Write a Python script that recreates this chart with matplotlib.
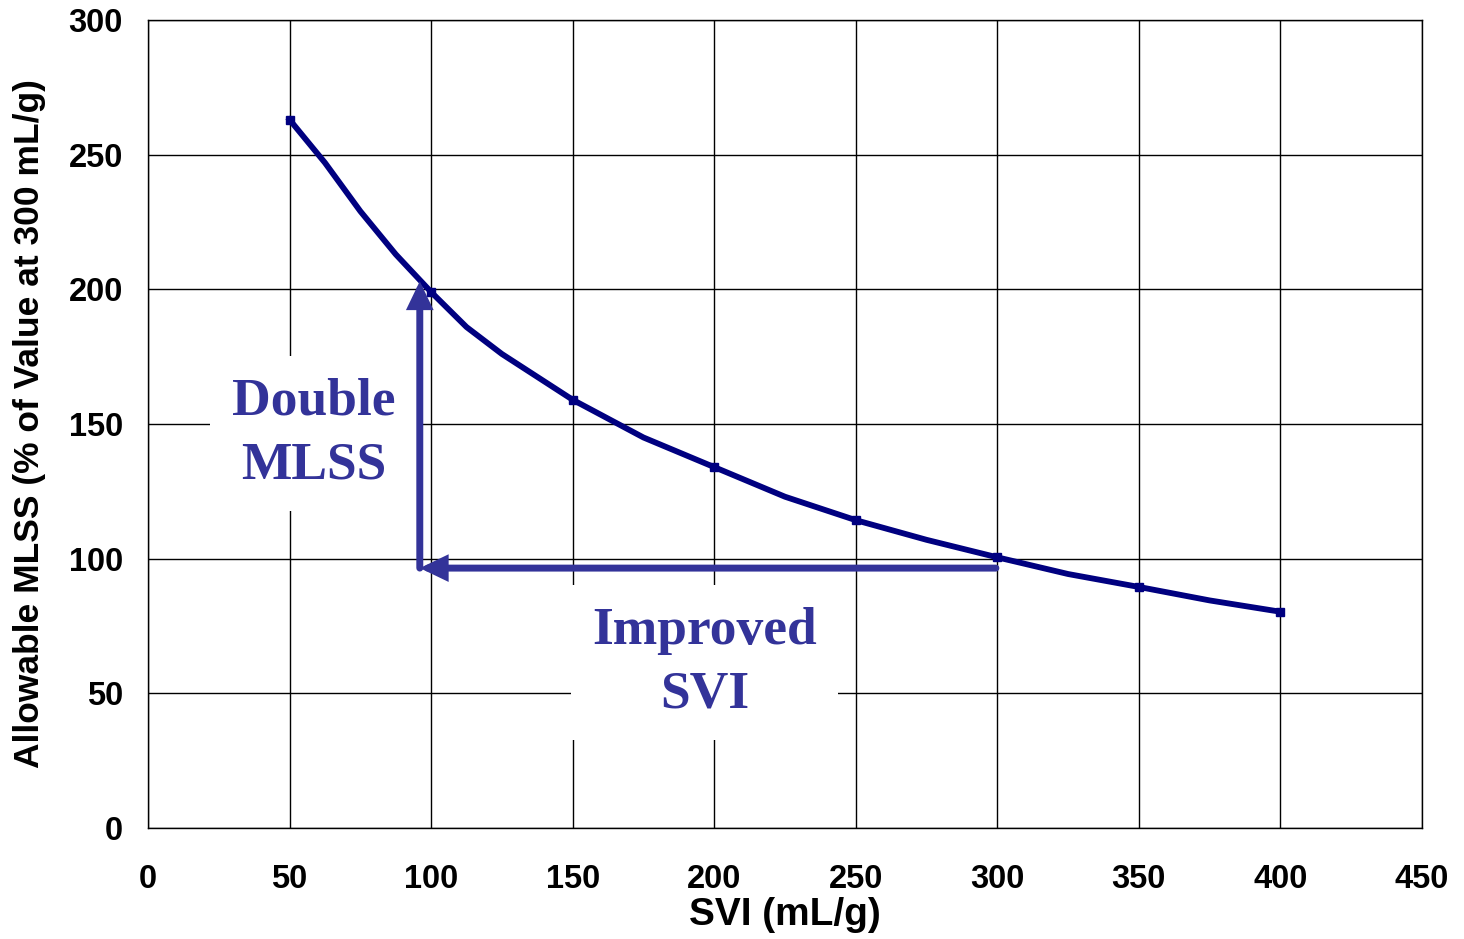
import matplotlib
matplotlib.use("Agg")
import matplotlib.pyplot as plt

# Data
svi = [50, 62.5, 75, 87.5, 100, 112.5, 125, 137.5, 150, 175, 200, 225, 250, 275, 300, 325, 350, 375, 400]
mlss = [263, 247, 229, 213, 199, 186, 176, 167.5, 159, 145, 134, 123, 114.3, 107, 100.5, 94.3, 89.5, 84.5, 80.3]
marker_svi = [50, 100, 150, 200, 250, 300, 350, 400]
marker_mlss = [263, 199, 159, 134, 114.3, 100.5, 89.5, 80.3]
x_ticks = [0, 50, 100, 150, 200, 250, 300, 350, 400, 450]
y_ticks = [0, 50, 100, 150, 200, 250, 300]

navy = "#000080"
arrow_col = "#333399"

fig = plt.figure(figsize=(14.64, 9.39), dpi=100)
ax = fig.add_axes([0.1011, 0.1182, 0.8702, 0.8605])
ax.set_xlim(0, 450)
ax.set_ylim(0, 300)
ax.set_xticks(x_ticks)
ax.set_yticks(y_ticks)
ax.grid(True, color="black", linewidth=1.0)
ax.set_axisbelow(True)
ax.tick_params(axis="y", length=0, pad=18)
ax.tick_params(axis="x", length=0, pad=26)
for lab in ax.get_xticklabels() + ax.get_yticklabels():
    lab.set_fontfamily("Liberation Sans")
    lab.set_fontweight("bold")
    lab.set_fontsize(23.5)
for s in ax.spines.values():
    s.set_color("black")
    s.set_linewidth(1.0)

ax.plot(svi, mlss, color=navy, linewidth=4.2, zorder=3)
ax.plot(marker_svi, marker_mlss, linestyle="none", marker="s", markersize=6,
        color=navy, zorder=4)

ax.set_xlabel("SVI (mL/g)", fontfamily="Liberation Sans", fontweight="bold",
              fontsize=28, labelpad=1)
ax.set_ylabel("Allowable MLSS (% of Value at 300 mL/g)", fontfamily="Liberation Sans",
              fontweight="bold", fontsize=25.5, labelpad=16)

# Arrows
astyle = "-|>,head_length=1.25,head_width=0.6"
ax.annotate("", xy=(96, 203), xytext=(96, 96.5),
            arrowprops=dict(arrowstyle=astyle, color=arrow_col, lw=5,
                            shrinkA=0, shrinkB=0, joinstyle="miter"), zorder=5)
ax.annotate("", xy=(96, 96.5), xytext=(299.5, 96.5),
            arrowprops=dict(arrowstyle=astyle, color=arrow_col, lw=5,
                            shrinkA=0, shrinkB=0, joinstyle="miter"), zorder=5)

# Text boxes
ax.text(58.5, 146.5, "Double\nMLSS", ha="center", va="center", color=arrow_col,
        fontfamily="Liberation Serif", fontweight="bold", fontsize=38.5,
        linespacing=1.42,
        bbox=dict(boxstyle="square,pad=0.4", facecolor="white", edgecolor="none"),
        zorder=4)
ax.text(196.5, 61.5, "Improved\nSVI", ha="center", va="center", color=arrow_col,
        fontfamily="Liberation Serif", fontweight="bold", fontsize=38.5,
        linespacing=1.42,
        bbox=dict(boxstyle="square,pad=0.4", facecolor="white", edgecolor="none"),
        zorder=4)

fig.savefig("out.png", dpi=100)
